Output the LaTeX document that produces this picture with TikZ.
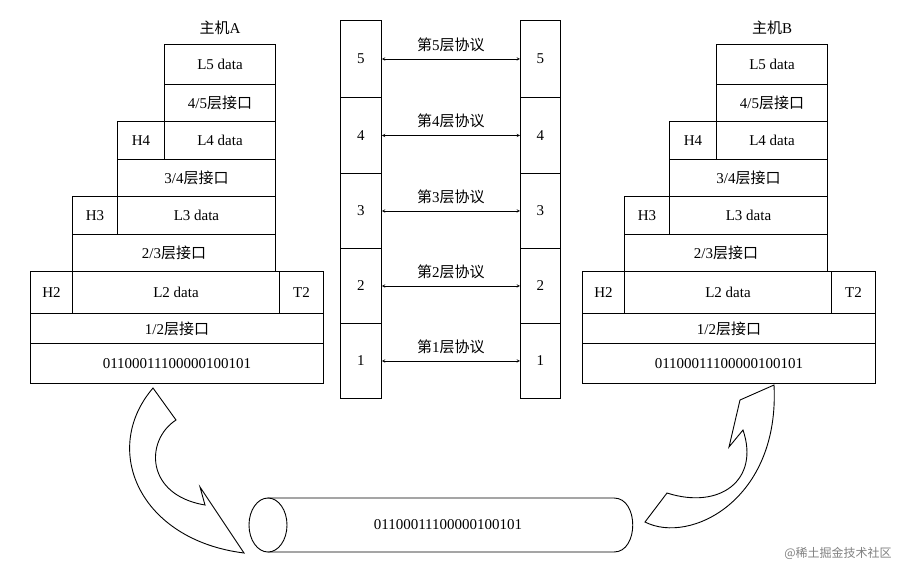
\documentclass[tikz,border=0pt]{standalone}
\usepackage{fontspec}
\setmainfont{Liberation Serif}
\newfontfamily\cjk{Noto Sans CJK SC}
\tikzset{bx/.style={draw,line width=0.9pt,fill=white,font=\fontsize{15}{16}\selectfont},
 arr/.style={<->,>=stealth,line width=0.5pt},
 lab/.style={font=\fontsize{15}{16}\selectfont},
 blk/.style={draw,line width=0.9pt,fill=white}}
\newcommand{\B}[6]{\node[bx,minimum width=#4-#2,minimum height=#5-#3,anchor=north west,inner sep=0pt] (#1) at (#2,#3) {#6};}
\begin{document}
\begin{tikzpicture}[x=1pt,y=-1pt]
\useasboundingbox (0,0) rectangle (923,574);
\foreach \o/\h in {0/A,552/B}{
\begin{scope}[xshift=\o]
\node[lab] (t\h) at (220,28) {{\cjk 主机}\h};
\B{l5\h}{164}{44}{275}{84}{L5 data}
\B{i45\h}{164}{84}{275}{121}{4/5{\cjk 层接口}}
\B{h4\h}{117}{121}{164}{159}{H4}
\B{l4\h}{164}{121}{275}{159}{L4 data}
\B{i34\h}{117}{159}{275}{196}{3/4{\cjk 层接口}}
\B{h3\h}{72}{196}{117}{234}{H3}
\B{l3\h}{117}{196}{275}{234}{L3 data}
\B{i23\h}{72}{234}{275}{271}{2/3{\cjk 层接口}}
\B{h2\h}{30}{271}{72}{313}{H2}
\B{l2\h}{72}{271}{279}{313}{L2 data}
\B{t2\h}{279}{271}{323}{313}{T2}
\B{i12\h}{30}{313}{323}{343}{1/2{\cjk 层接口}}
\B{bit\h}{30}{343}{323}{383}{01100011100000100101}
\end{scope}}
\foreach \n/\ya/\yb in {5/20/97,4/97/173,3/173/248,2/248/323,1/323/398}{
\B{L\n}{340}{\ya}{381}{\yb}{\n}
\B{R\n}{520}{\ya}{560}{\yb}{\n}
\draw[arr] (L\n.east) -- node[lab,above=4pt] (p\n) {{\cjk 第}\n{\cjk 层协议}} (R\n.west);
}
% cylinder
\draw[line width=0.9pt,fill=white] (268,498) -- (614,498) .. controls (639,498) and (639,552) .. (614,552) -- (268,552) -- cycle;
\draw[line width=0.9pt,fill=white] (268,525) ellipse[x radius=19,y radius=27];
\node[lab] (cyl) at (448,525) {01100011100000100101};
% arrows
\draw[blk] (153,388) -- (176,420) .. controls (145,440) and (145,495) .. (205,505) -- (200,487) -- (244,553) .. controls (140,540) and (100,450) .. (153,388) -- cycle;
\draw[blk] (774,385) -- (740,400) -- (729,447) -- (743,430) .. controls (760,480) and (720,510) .. (667,493) -- (645,522) .. controls (690,545) and (780,500) .. (774,385) -- cycle;
\node[font=\cjk\fontsize{12}{13}\selectfont,text=gray] (wm) at (838,553) {@稀土掘金技术社区};
\end{tikzpicture}
\end{document}
